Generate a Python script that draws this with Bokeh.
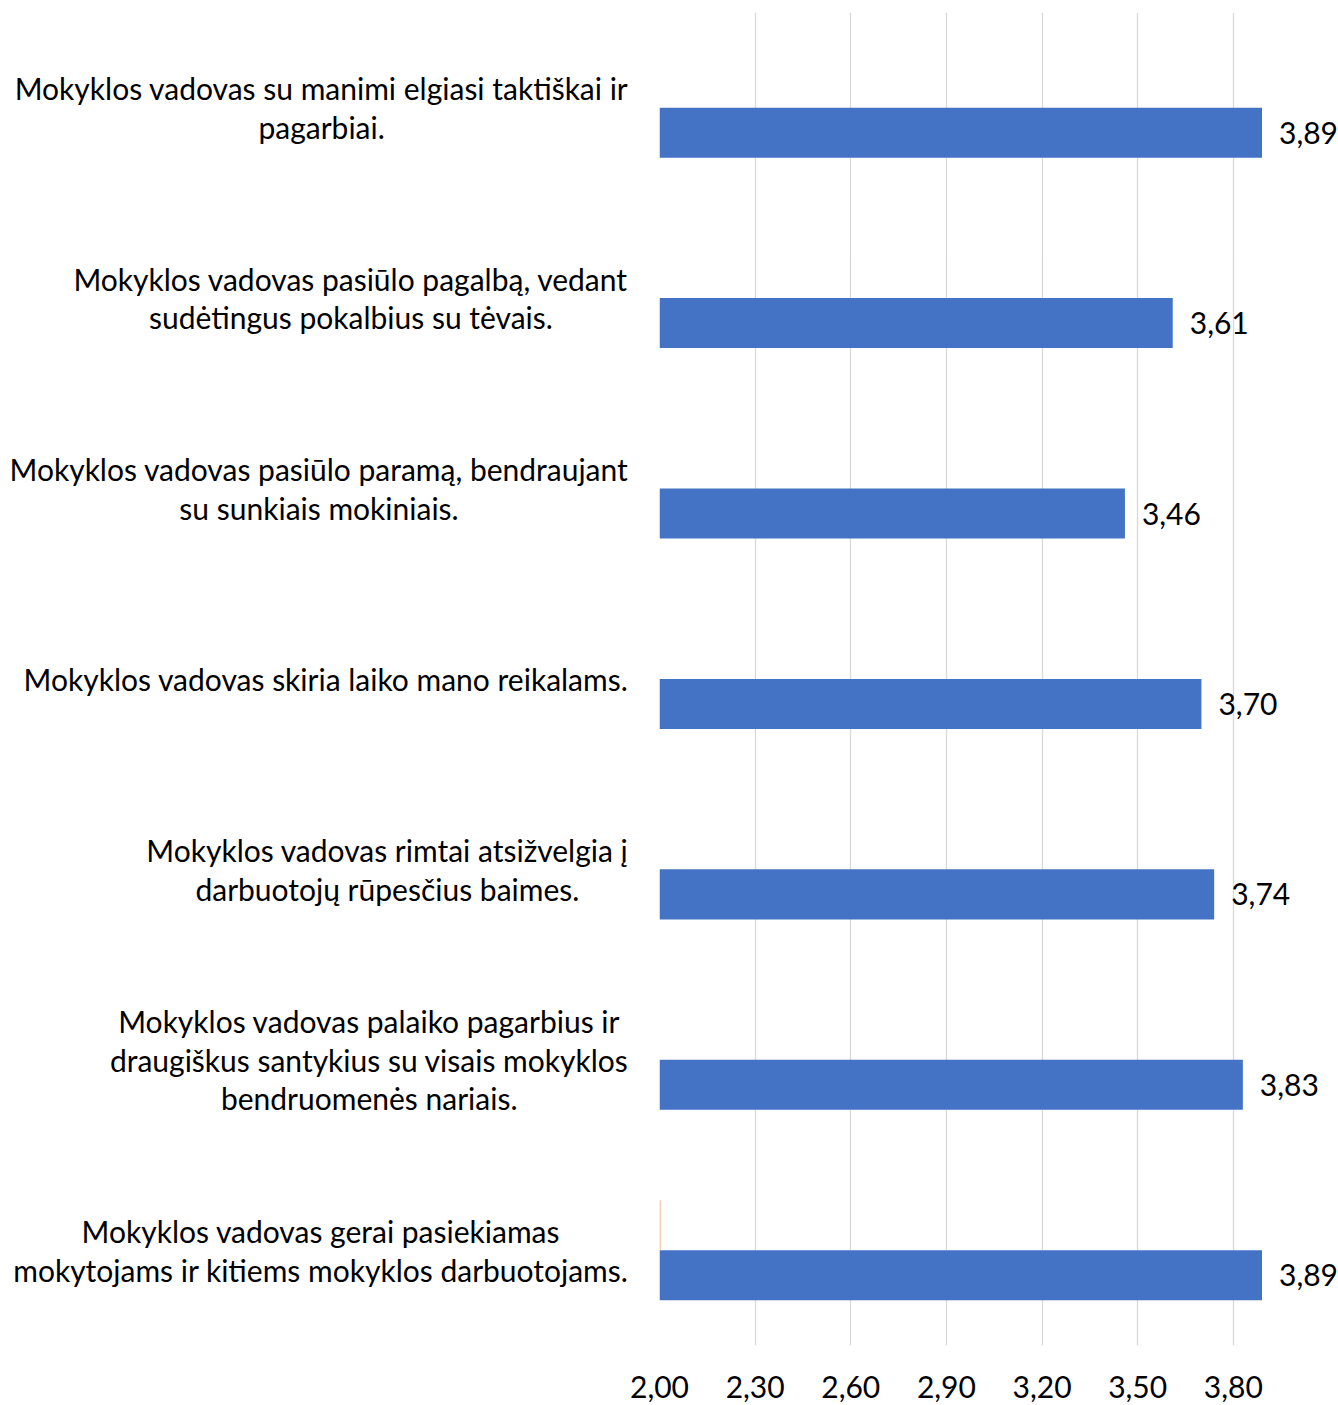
from bokeh.plotting import figure
from bokeh.models import ColumnDataSource, FactorRange, FixedTicker, CustomJSTickFormatter, LabelSet
from bokeh.transform import dodge
from bokeh.core.properties import value
from bokeh.embed import file_html
from bokeh.resources import INLINE

categories = [
    "Mokyklos vadovas su manimi elgiasi taktiškai ir\npagarbiai.",
    "Mokyklos vadovas pasiūlo pagalbą, vedant\nsudėtingus pokalbius su tėvais.",
    "Mokyklos vadovas pasiūlo paramą, bendraujant\nsu sunkiais mokiniais.",
    "Mokyklos vadovas skiria laiko mano reikalams.",
    "Mokyklos vadovas rimtai atsižvelgia į\ndarbuotojų rūpesčius baimes.",
    "Mokyklos vadovas palaiko pagarbius ir\ndraugiškus santykius su visais mokyklos\nbendruomenės nariais.",
    "Mokyklos vadovas gerai pasiekiamas\nmokytojams ir kitiems mokyklos darbuotojams.",
]
values = [3.89, 3.61, 3.46, 3.70, 3.74, 3.83, 3.89]
second_series = [2.0, 2.0, 2.0, 2.0, 2.0, 2.0, 2.004]
x_ticks = [2.00, 2.30, 2.60, 2.90, 3.20, 3.50, 3.80]
axis_min = 2.0
axis_max = 4.13

FONT = "Lato"
FS = "30px"

src = ColumnDataSource(dict(
    cat=categories,
    val=values,
    val2=second_series,
    base=[axis_min] * len(values),
    lbl=[f"{v:.2f}".replace(".", ",") for v in values],
))

p = figure(
    width=1338, height=1405,
    y_range=FactorRange(factors=categories[::-1]),
    x_range=(axis_min, axis_max),
    output_backend="svg", toolbar_location=None,
    min_border_left=659, min_border_right=0, min_border_top=12, min_border_bottom=60,
)
p.outline_line_color = None
p.background_fill_color = "white"
p.border_fill_color = "white"

p.hbar(y=dodge("cat", -0.131, range=p.y_range), left=axis_min, right="val", height=0.2626,
       source=src, fill_color="#4472C4", line_color=None)
p.hbar(y=dodge("cat", 0.131, range=p.y_range), left=axis_min, right="val2", height=0.2626,
       source=src, fill_color="#ED7D31", fill_alpha=0.5, line_color=None)

labels = LabelSet(x="val", y=dodge("cat", -0.131, range=p.y_range), text="lbl", source=src,
                  x_offset=17, text_align="left", text_baseline="middle",
                  text_font=value(FONT), text_font_size=FS, text_color="#000000")
p.add_layout(labels)

# category labels: box anchored at its right edge, lines centred inside it
cat_text = p.text(x="base", y="cat", text="cat", source=src,
                  anchor="center_right", text_align="center", text_baseline="middle",
                  x_offset=-31, text_font=value(FONT), text_font_size=FS,
                  text_color="#000000", text_line_height=1.07)
cat_text.level = "overlay"

p.xaxis.ticker = FixedTicker(ticks=x_ticks)
p.xaxis.formatter = CustomJSTickFormatter(code="return tick.toFixed(2).replace('.', ',');")
p.xaxis.axis_line_color = None
p.xaxis.major_tick_line_color = None
p.xaxis.minor_tick_line_color = None
p.xaxis.major_tick_out = 0
p.xaxis.major_tick_in = 0
p.xaxis.major_label_standoff = 30
p.xaxis.major_label_text_font = FONT
p.xaxis.major_label_text_font_size = FS
p.xaxis.major_label_text_color = "#000000"

p.yaxis.visible = False

p.xgrid.grid_line_color = "#d9d9d9"
p.xgrid.grid_line_width = 1.3
p.ygrid.grid_line_color = None

open("out.html", "w").write(file_html(p, INLINE))
